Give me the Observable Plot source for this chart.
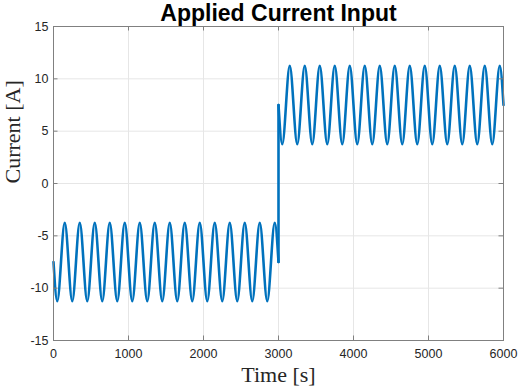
<!DOCTYPE html>
<html>
<head>
<meta charset="utf-8">
<script src="https://cdn.jsdelivr.net/npm/d3@7"></script>
<script src="https://cdn.jsdelivr.net/npm/@observablehq/plot@0.6"></script>
<style>
  html, body { margin: 0; padding: 0; background: white; }
</style>
</head>
<body>
<div id="chart"></div>
<script>
// Time stamps (s) of the start, extremes and end of each half of the input
const timeFirst = [0, 50, 150, 250, 350, 450, 550, 650, 750, 850, 950, 1050, 1150, 1250, 1350, 1450,
  1550, 1650, 1750, 1850, 1950, 2050, 2150, 2250, 2350, 2450, 2550, 2650, 2750, 2850, 2950, 3000];
const currentFirst = [-7.5, -11.25, -3.75, -11.25, -3.75, -11.25, -3.75, -11.25, -3.75, -11.25, -3.75,
  -11.25, -3.75, -11.25, -3.75, -11.25, -3.75, -11.25, -3.75, -11.25, -3.75, -11.25, -3.75, -11.25, -3.75,
  -11.25, -3.75, -11.25, -3.75, -11.25, -3.75, -7.5];
const timeSecond = [3000, 3050, 3150, 3250, 3350, 3450, 3550, 3650, 3750, 3850, 3950, 4050, 4150, 4250, 4350,
  4450, 4550, 4650, 4750, 4850, 4950, 5050, 5150, 5250, 5350, 5450, 5550, 5650, 5750, 5850, 5950, 6000];
const currentSecond = [7.5, 3.75, 11.25, 3.75, 11.25, 3.75, 11.25, 3.75, 11.25, 3.75, 11.25, 3.75, 11.25,
  3.75, 11.25, 3.75, 11.25, 3.75, 11.25, 3.75, 11.25, 3.75, 11.25, 3.75, 11.25, 3.75, 11.25, 3.75, 11.25,
  3.75, 11.25, 7.5];

const xTicks = [0, 1000, 2000, 3000, 4000, 5000, 6000];
const yTicks = [-15, -10, -5, 0, 5, 10, 15];
const titleText = "Applied Current Input";
const xLabel = "Time [s]";
const yLabel = "Current [A]";

const first = timeFirst.map((t, i) => ({t, v: currentFirst[i]}));
const second = timeSecond.map((t, i) => ({t, v: currentSecond[i]}));
const jump = [first[first.length - 1], second[0]];

const blue = "#0072BD";
const gridColor = "#e6e6e6";
const axisColor = "#808080";
const tickLenX = 60;    // in data units (s)
const tickLenY = 0.43;  // in data units (A)

const chart = Plot.plot({
  width: 519,
  height: 388,
  marginLeft: 53,
  marginRight: 16,
  marginTop: 26,
  marginBottom: 48,
  x: {domain: [0, 6000]},
  y: {domain: [-15, 15]},
  style: {fontFamily: "'Liberation Sans', Arial, Helvetica, sans-serif", fontSize: "12.5px", color: "#262626", background: "white"},
  marks: [
    Plot.gridX(xTicks, {stroke: gridColor, strokeOpacity: 1}),
    Plot.gridY(yTicks, {stroke: gridColor, strokeOpacity: 1}),
    Plot.line(first, {x: "t", y: "v", stroke: blue, strokeWidth: 2.6, curve: "monotone-x", strokeLinejoin: "round"}),
    Plot.line(second, {x: "t", y: "v", stroke: blue, strokeWidth: 2.6, curve: "monotone-x", strokeLinejoin: "round"}),
    Plot.line(jump, {x: "t", y: "v", stroke: blue, strokeWidth: 2.6}),
    Plot.frame({stroke: axisColor}),
    // inward ticks
    Plot.ruleX(xTicks, {x: d => d, y1: -15, y2: -15 + tickLenY, stroke: axisColor}),
    Plot.ruleX(xTicks, {x: d => d, y1: 15, y2: 15 - tickLenY, stroke: axisColor}),
    Plot.ruleY(yTicks, {y: d => d, x1: 0, x2: tickLenX, stroke: axisColor}),
    Plot.ruleY(yTicks, {y: d => d, x1: 6000, x2: 6000 - tickLenX, stroke: axisColor}),
    Plot.axisX(xTicks, {tickSize: 0, tickPadding: 9, label: null, tickFormat: d => String(d), fill: "#262626"}),
    Plot.axisY(yTicks, {tickSize: 0, tickPadding: 5, label: null, tickFormat: d => String(d), fill: "#262626"}),
    Plot.text([titleText], {text: d => d, frameAnchor: "top", lineAnchor: "bottom", dy: -6,
      fontSize: 23, fontWeight: "bold", fill: "#000", fontFamily: "'Liberation Sans', Arial, sans-serif"}),
    Plot.text([xLabel], {text: d => d, frameAnchor: "bottom", lineAnchor: "top", dy: 26,
      fontSize: 22, fill: "#262626", fontFamily: "'Liberation Serif', 'Times New Roman', serif"}),
    Plot.text([yLabel], {text: d => d, frameAnchor: "left", rotate: -90, lineAnchor: "middle", dx: -41,
      fontSize: 22, fill: "#262626", fontFamily: "'Liberation Serif', 'Times New Roman', serif"})
  ]
});

document.getElementById("chart").appendChild(chart);
</script>
</body>
</html>
